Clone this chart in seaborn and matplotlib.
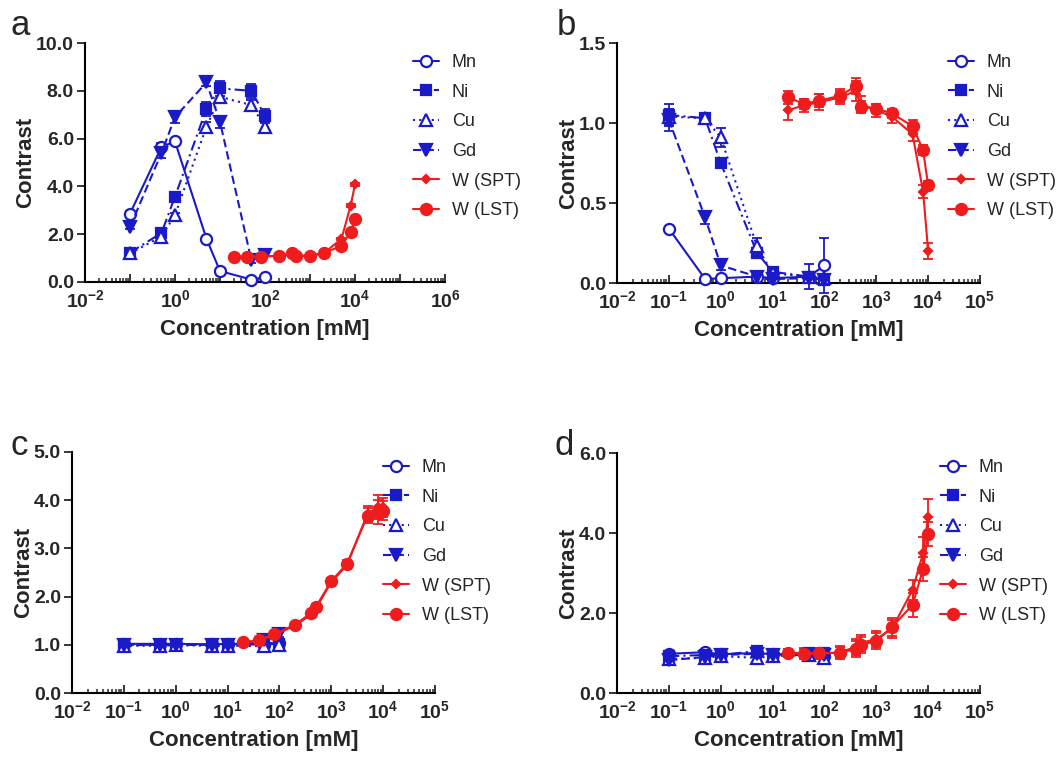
import numpy as np
import matplotlib
matplotlib.use("Agg")
import matplotlib.pyplot as plt
from matplotlib.ticker import FixedLocator, FuncFormatter, NullFormatter
import seaborn as sns

# concentrations [mM]
metal_conc = [0.1, 0.5, 1, 5, 10, 50, 100]
w_conc = [20, 40, 80, 200, 400, 500, 1000, 2000, 5000, 8000, 10000]
names = ["Mn", "Ni", "Cu", "Gd", "W (SPT)", "W (LST)"]

# panel a
a_mn = [2.86, 5.65, 5.88, 1.81, 0.46, 0.10, 0.20]
a_mn_err = [0.10, 0.15, 0.10, 0.05, 0.05, 0.05, 0.05]
a_ni = [1.23, 2.05, 3.57, 7.25, 8.10, 8.00, 6.95]
a_ni_err = [0.10, 0.10, 0.15, 0.30, 0.30, 0.30, 0.30]
a_cu = [1.20, 1.90, 2.80, 6.50, 7.75, 7.40, 6.50]
a_cu_err = [0.05, 0.10, 0.10, 0.20, 0.20, 0.20, 0.20]
a_gd = [2.30, 5.40, 6.90, 8.35, 6.70, 0.90, 1.15]
a_gd_err = [0.10, 0.20, 0.25, 0.15, 0.25, 0.10, 0.05]
a_spt = [1.05, 1.06, 1.06, 1.10, 1.15, 1.10, 1.10, 1.20, 1.80, 3.20, 4.08]
a_spt_err = [0.05, 0.04, 0.04, 0.04, 0.05, 0.04, 0.04, 0.05, 0.06, 0.08, 0.08]
a_lst = [1.05, 1.06, 1.06, 1.10, 1.20, 1.08, 1.10, 1.22, 1.50, 2.10, 2.62]
a_lst_err = [0.04, 0.04, 0.04, 0.04, 0.05, 0.04, 0.04, 0.05, 0.06, 0.08, 0.08]

# panel b
b_mn = [0.34, 0.025, 0.03, 0.04, 0.03, 0.04, 0.11]
b_mn_err = [0.01, 0.01, 0.01, 0.01, 0.01, 0.01, 0.17]
b_ni = [1.05, 1.03, 0.75, 0.19, 0.07, 0.04, 0.02]
b_ni_err = [0.07, 0.02, 0.02, 0.03, 0.02, 0.02, 0.01]
b_cu = [1.04, 1.03, 0.91, 0.23, 0.06, 0.04, 0.03]
b_cu_err = [0.05, 0.02, 0.06, 0.05, 0.02, 0.08, 0.01]
b_gd = [1.02, 0.41, 0.11, 0.04, 0.025, 0.03, 0.02]
b_gd_err = [0.07, 0.04, 0.03, 0.01, 0.01, 0.01, 0.01]
b_spt = [1.08, 1.11, 1.13, 1.16, 1.20, 1.12, 1.08, 1.04, 0.93, 0.57, 0.20]
b_spt_err = [0.06, 0.04, 0.05, 0.04, 0.06, 0.05, 0.04, 0.04, 0.04, 0.04, 0.05]
b_lst = [1.16, 1.12, 1.14, 1.17, 1.23, 1.10, 1.09, 1.06, 0.98, 0.83, 0.61]
b_lst_err = [0.04, 0.03, 0.04, 0.04, 0.05, 0.04, 0.03, 0.03, 0.04, 0.03, 0.03]

# panel c
c_mn = [1.02, 1.02, 1.02, 1.01, 1.02, 1.00, 1.03]
c_mn_err = [0.03, 0.03, 0.03, 0.03, 0.03, 0.05, 0.04]
c_ni = [1.00, 1.00, 1.00, 1.00, 1.00, 1.05, 1.02]
c_ni_err = [0.03, 0.03, 0.03, 0.03, 0.03, 0.05, 0.05]
c_cu = [0.98, 0.98, 0.99, 0.98, 0.98, 0.97, 1.00]
c_cu_err = [0.03, 0.03, 0.03, 0.03, 0.03, 0.05, 0.04]
c_gd = [0.99, 1.00, 1.00, 1.00, 1.00, 1.10, 1.22]
c_gd_err = [0.03, 0.03, 0.03, 0.03, 0.03, 0.05, 0.05]
c_spt = [1.05, 1.08, 1.20, 1.40, 1.62, 1.75, 2.30, 2.65, 3.72, 3.85, 3.85]
c_spt_err = [0.04, 0.04, 0.05, 0.06, 0.06, 0.06, 0.07, 0.07, 0.15, 0.25, 0.20]
c_lst = [1.05, 1.10, 1.22, 1.42, 1.65, 1.78, 2.32, 2.68, 3.68, 3.75, 3.78]
c_lst_err = [0.04, 0.04, 0.05, 0.06, 0.06, 0.06, 0.07, 0.07, 0.15, 0.25, 0.20]

# panel d
d_mn = [0.98, 1.02, 0.97, 1.00, 0.97, 0.97, 0.92]
d_mn_err = [0.05, 0.05, 0.05, 0.08, 0.06, 0.08, 0.08]
d_ni = [0.92, 0.95, 0.95, 1.05, 0.95, 1.00, 1.00]
d_ni_err = [0.05, 0.05, 0.05, 0.08, 0.06, 0.08, 0.08]
d_cu = [0.85, 0.88, 0.92, 0.88, 0.92, 0.95, 0.88]
d_cu_err = [0.05, 0.05, 0.05, 0.08, 0.06, 0.08, 0.08]
d_gd = [0.82, 0.90, 0.95, 0.98, 0.95, 0.95, 0.95]
d_gd_err = [0.05, 0.05, 0.05, 0.08, 0.06, 0.08, 0.08]
d_spt = [1.00, 1.00, 0.98, 1.02, 1.15, 1.25, 1.35, 1.60, 2.58, 3.50, 4.40]
d_spt_err = [0.10, 0.12, 0.12, 0.15, 0.20, 0.20, 0.20, 0.22, 0.25, 0.40, 0.45]
d_lst = [1.00, 0.98, 1.00, 1.00, 1.10, 1.20, 1.30, 1.65, 2.20, 3.10, 3.98]
d_lst_err = [0.10, 0.12, 0.12, 0.15, 0.20, 0.20, 0.20, 0.22, 0.30, 0.30, 0.30]

BLUE = "#1a1ac8"
RED = "#ee1c1c"
styles = {
    "Mn": dict(color=BLUE, marker="o", markerfacecolor="white", linestyle="-", markersize=8),
    "Ni": dict(color=BLUE, marker="s", markerfacecolor=BLUE, linestyle=(0, (5, 2, 1, 2)), markersize=7),
    "Cu": dict(color=BLUE, marker="^", markerfacecolor="white", linestyle=(0, (1, 2)), markersize=8),
    "Gd": dict(color=BLUE, marker="v", markerfacecolor=BLUE, linestyle=(0, (4, 2)), markersize=8),
    "W (SPT)": dict(color=RED, marker="D", markerfacecolor=RED, linestyle="-", markersize=4),
    "W (LST)": dict(color=RED, marker="o", markerfacecolor=RED, linestyle="-", markersize=8),
}

sns.set_theme(style="ticks")
plt.rcParams["font.family"] = ["Liberation Sans", "DejaVu Sans"]
plt.rcParams["mathtext.fontset"] = "custom"
plt.rcParams["mathtext.bf"] = "Liberation Sans:bold"
plt.rcParams["mathtext.rm"] = "Liberation Sans"

fig = plt.figure(figsize=(10.63, 7.58), dpi=100)
W, H = 1063, 758


def px_axes(x0, y_top, w, y_bot):
    return fig.add_axes([x0 / W, 1 - y_bot / H, w / W, (y_bot - y_top) / H])


def draw_panel(ax, series, emin, emax, label_step, ymax, yticks, leg_xy, letter, letter_xy):
    ax.set_xscale("log")
    for name in names:
        xs, ys, es = series[name]
        st = styles[name]
        ax.errorbar(xs, ys, yerr=es, fmt="none", ecolor=st["color"], elinewidth=1.3,
                    capsize=3.5, capthick=1.3, clip_on=False, zorder=2)
        sns.lineplot(x=xs, y=ys, ax=ax, color=st["color"], marker=st["marker"],
                     markersize=st["markersize"], markerfacecolor=st["markerfacecolor"],
                     markeredgecolor=st["color"], markeredgewidth=1.6,
                     linestyle=st["linestyle"], linewidth=1.5, label=name,
                     errorbar=None, sort=False, clip_on=False, zorder=3)
    ax.set_xlim(10.0 ** emin, 10.0 ** emax)
    ax.set_ylim(0, ymax)
    ax.xaxis.set_major_locator(FixedLocator([10.0 ** e for e in range(emin, emax + 1)]))
    minors = [m * 10.0 ** e for e in range(emin, emax) for m in range(2, 10)]
    ax.xaxis.set_minor_locator(FixedLocator(minors))
    ax.xaxis.set_minor_formatter(NullFormatter())

    def fmt(v, pos):
        e = int(round(np.log10(v)))
        if (e - emin) % label_step:
            return ""
        return r"$\mathbf{10^{%d}}$" % e

    ax.xaxis.set_major_formatter(FuncFormatter(fmt))
    ax.set_yticks(yticks)
    ax.set_yticklabels(["%.1f" % t for t in yticks])
    ax.tick_params(axis="x", which="major", direction="in", length=6, width=1.3, labelsize=14, pad=5)
    ax.tick_params(axis="x", which="minor", direction="in", length=3, width=1.1)
    ax.tick_params(axis="y", direction="out", length=6, width=1.3, labelsize=14, pad=2)
    for lab in ax.get_yticklabels():
        lab.set_fontweight("bold")
    for s in ["left", "bottom"]:
        ax.spines[s].set_linewidth(1.5)
        ax.spines[s].set_color("black")
    sns.despine(ax=ax)
    ax.set_xlabel("Concentration [mM]", fontsize=16, fontweight="bold", labelpad=6)
    ax.set_ylabel("Contrast", fontsize=16, fontweight="bold", labelpad=0)
    handles, labels = ax.get_legend_handles_labels()
    ax.legend(handles, labels, loc="upper left", bbox_to_anchor=(leg_xy[0] / W, 1 - leg_xy[1] / H),
              bbox_transform=fig.transFigure, frameon=False, fontsize=13, handlelength=1.45,
              handletextpad=0.7, labelspacing=0.7, borderpad=0, borderaxespad=0)
    fig.text(letter_xy[0] / W, 1 - letter_xy[1] / H, letter, fontsize=25, va="baseline", ha="left")


ax_a = px_axes(85, 43, 360, 282)
draw_panel(ax_a, {
    "Mn": (metal_conc, a_mn, a_mn_err), "Ni": (metal_conc, a_ni, a_ni_err),
    "Cu": (metal_conc, a_cu, a_cu_err), "Gd": (metal_conc, a_gd, a_gd_err),
    "W (SPT)": (w_conc, a_spt, a_spt_err), "W (LST)": (w_conc, a_lst, a_lst_err),
}, -2, 6, 2, 10.0, [0, 2, 4, 6, 8, 10], (413, 54), "a", (10, 35))

ax_b = px_axes(617, 43, 363, 283)
draw_panel(ax_b, {
    "Mn": (metal_conc, b_mn, b_mn_err), "Ni": (metal_conc, b_ni, b_ni_err),
    "Cu": (metal_conc, b_cu, b_cu_err), "Gd": (metal_conc, b_gd, b_gd_err),
    "W (SPT)": (w_conc, b_spt, b_spt_err), "W (LST)": (w_conc, b_lst, b_lst_err),
}, -2, 5, 1, 1.5, [0, 0.5, 1.0, 1.5], (948, 54), "b", (557, 35))

ax_c = px_axes(72, 452, 363, 693)
draw_panel(ax_c, {
    "Mn": (metal_conc, c_mn, c_mn_err), "Ni": (metal_conc, c_ni, c_ni_err),
    "Cu": (metal_conc, c_cu, c_cu_err), "Gd": (metal_conc, c_gd, c_gd_err),
    "W (SPT)": (w_conc, c_spt, c_spt_err), "W (LST)": (w_conc, c_lst, c_lst_err),
}, -2, 5, 1, 5.0, [0, 1, 2, 3, 4, 5], (383, 459), "c", (10, 455))

ax_d = px_axes(617, 453, 363, 693)
draw_panel(ax_d, {
    "Mn": (metal_conc, d_mn, d_mn_err), "Ni": (metal_conc, d_ni, d_ni_err),
    "Cu": (metal_conc, d_cu, d_cu_err), "Gd": (metal_conc, d_gd, d_gd_err),
    "W (SPT)": (w_conc, d_spt, d_spt_err), "W (LST)": (w_conc, d_lst, d_lst_err),
}, -2, 5, 1, 6.0, [0, 2, 4, 6], (940, 459), "d", (555, 455))

fig.savefig("out.png", dpi=100)
